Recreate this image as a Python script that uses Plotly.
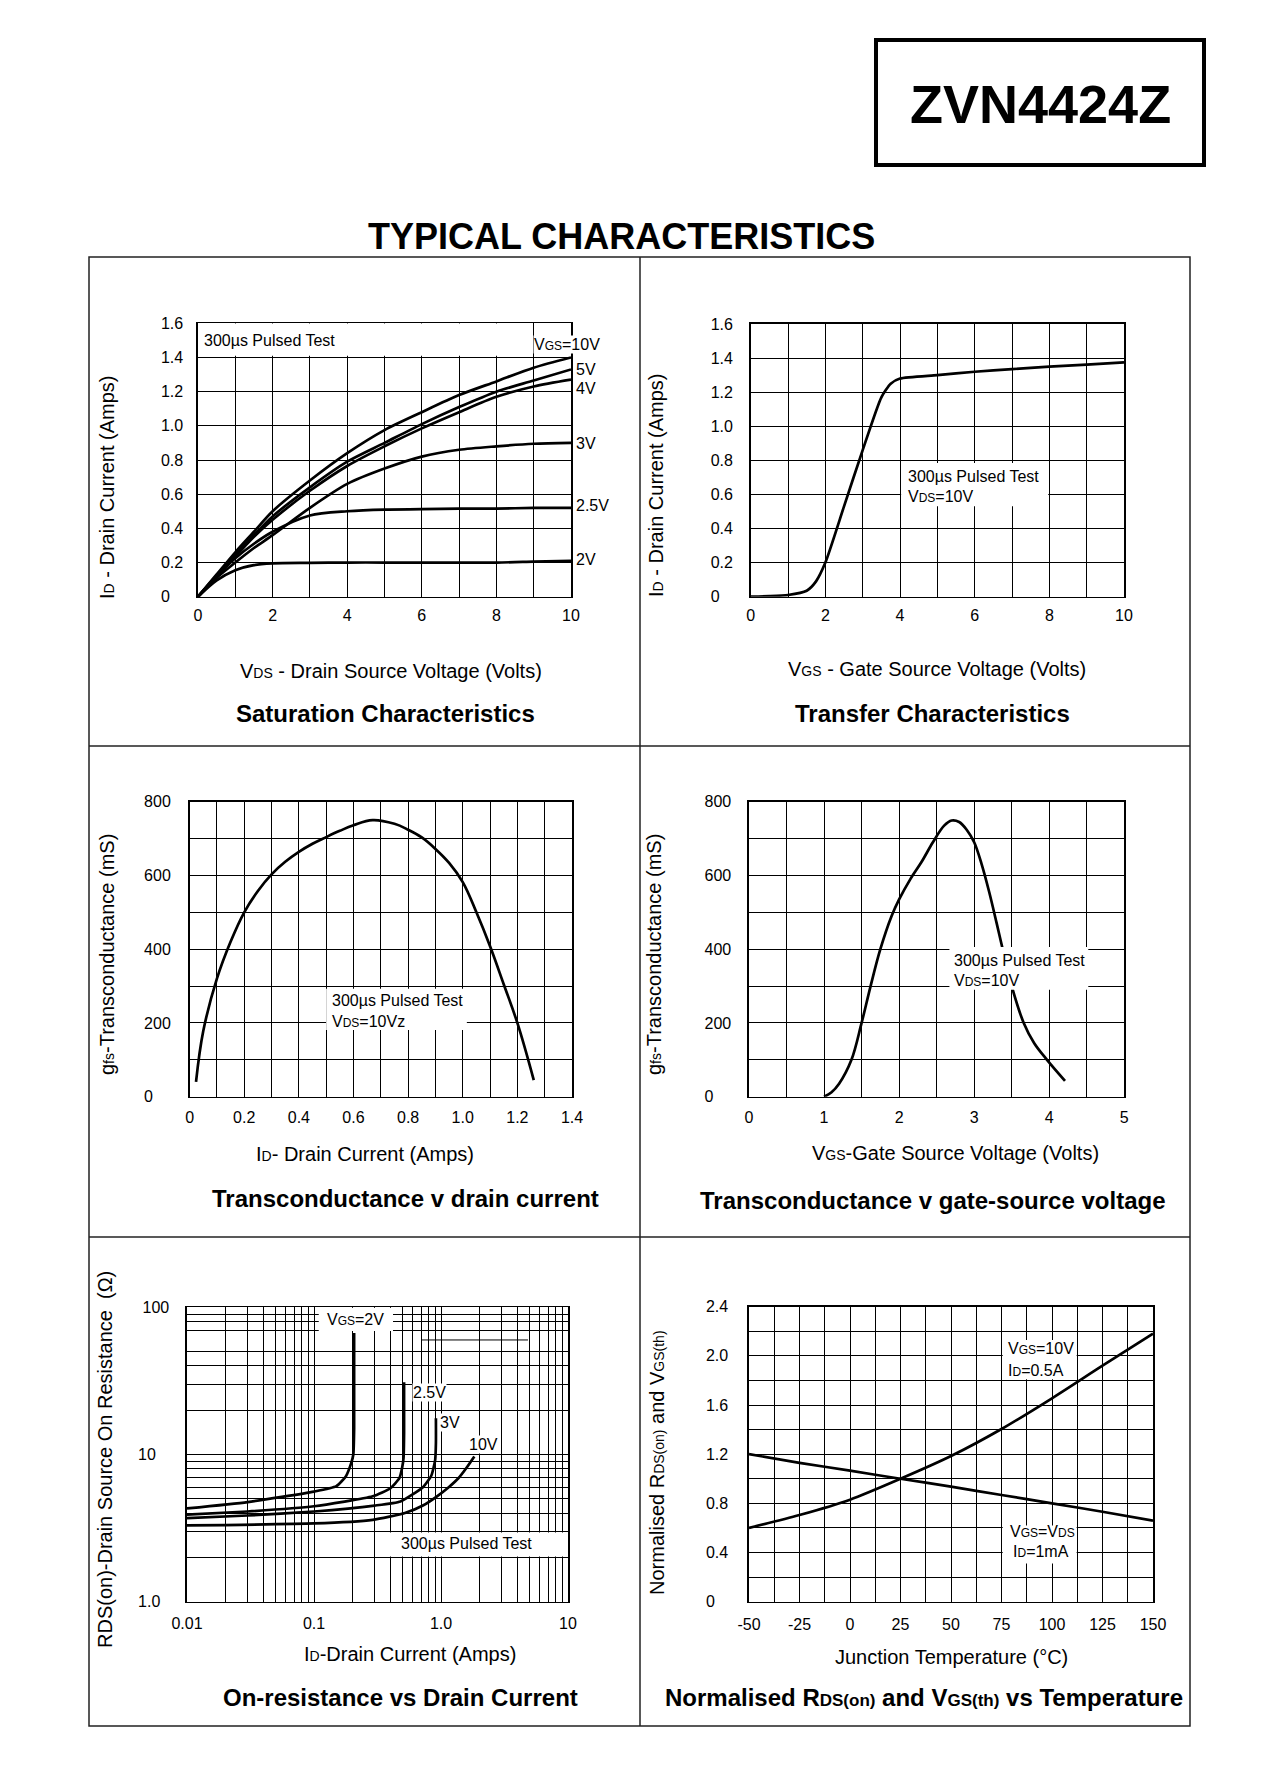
import numpy as np
import plotly.graph_objects as go

FONT = "Liberation Sans, Arial, Helvetica, sans-serif"
PAGE_W, PAGE_H = 1264, 1783
OFF = 8                      # default body margin of the page
W, H = PAGE_W - 2 * OFF, PAGE_H - 2 * OFF
NB = "\u00a0"

# ---------------- data ----------------
# Saturation characteristics
SAT_VDS = [0, 0.5, 1, 1.5, 2, 3, 4, 5, 6, 7, 8, 9, 10]
SAT_ID = {
    "10V": [0, 0.13, 0.26, 0.38, 0.50, 0.68, 0.84, 0.975, 1.08, 1.18, 1.26, 1.34, 1.40],
    "5V": [0, 0.125, 0.245, 0.36, 0.47, 0.64, 0.79, 0.90, 1.01, 1.11, 1.20, 1.265, 1.33],
    "4V": [0, 0.12, 0.235, 0.35, 0.45, 0.62, 0.765, 0.88, 0.985, 1.08, 1.17, 1.23, 1.27],
    "3V": [0, 0.11, 0.20, 0.285, 0.36, 0.52, 0.66, 0.75, 0.82, 0.86, 0.88, 0.895, 0.90],
    "2.5V": [0, 0.12, 0.225, 0.31, 0.38, 0.475, 0.50, 0.51, 0.512, 0.515, 0.515, 0.52, 0.52],
    "2V": [0, 0.095, 0.155, 0.185, 0.195, 0.198, 0.20, 0.20, 0.20, 0.20, 0.20, 0.205, 0.21],
}
SAT_LABELS = ["5V", "4V", "3V", "2.5V", "2V"]
SAT_LABEL_Y = [1.327, 1.22, 0.898, 0.533, 0.215]

# Transfer characteristics
TR_VGS = [0, 0.5, 1, 1.5, 1.75, 2, 2.5, 3, 3.5, 3.75, 4, 5, 6, 7, 8, 9, 10]
TR_ID = [0, 0.003, 0.01, 0.035, 0.09, 0.2, 0.53, 0.86, 1.17, 1.25, 1.28, 1.30, 1.32, 1.335, 1.35, 1.362, 1.375]

# Transconductance v drain current
GI_ID = [0.0235, 0.05, 0.1, 0.15, 0.2, 0.25, 0.3, 0.35, 0.4, 0.45, 0.5, 0.55, 0.6, 0.67,
         0.75, 0.8, 0.85, 0.9, 0.95, 1.0, 1.05, 1.1, 1.15, 1.2, 1.26]
GI_GFS = [40, 178, 320, 420, 500, 558, 603, 637, 664, 686, 704, 721, 736, 750,
          740, 724, 703, 672, 634, 582, 500, 408, 305, 200, 45]

# Transconductance v gate-source voltage
GV_VGS = [1.0, 1.1, 1.2, 1.365, 1.5, 1.62, 1.75, 1.9, 2.0, 2.15, 2.3, 2.45, 2.6, 2.7, 2.8, 2.9, 3.0,
          3.1, 3.2, 3.3, 3.38, 3.5, 3.66, 3.8, 3.97, 4.21]
GV_GFS = [0, 12, 35, 100, 200, 300, 400, 490, 535, 590, 637, 690, 735, 749, 745, 724, 690,
          630, 555, 470, 400, 300, 200, 145, 100, 43]

# On-resistance vs drain current
RON = {
    "2V": ([0.01, 0.03, 0.1, 0.15, 0.178, 0.196, 0.204, 0.207, 0.207],
           [4.3, 4.75, 5.6, 6.1, 7.1, 8.7, 10, 15, 67]),
    "2.5V": ([0.01, 0.03, 0.1, 0.29, 0.4, 0.47, 0.495, 0.507, 0.512, 0.512],
             [3.9, 4.1, 4.45, 5.2, 5.9, 6.9, 8.2, 9.5, 14, 31]),
    "3V": ([0.01, 0.03, 0.1, 0.3, 0.48, 0.72, 0.84, 0.9, 0.912, 0.912],
           [3.7, 3.85, 4.1, 4.5, 4.8, 6.0, 7.2, 9.2, 12, 17.6]),
    "10V": ([0.01, 0.1, 0.29, 0.52, 0.72, 0.93, 1.15, 1.37, 1.6, 1.83],
            [3.3, 3.4, 3.6, 4.0, 4.5, 5.2, 6.0, 6.9, 8.2, 9.7]),
}

# Normalised RDS(on) and VGS(th) vs temperature
TJ = [-50, -25, 0, 25, 50, 75, 100, 125, 150]
NORM_RDS = [0.6, 0.705, 0.83, 1.0, 1.185, 1.405, 1.655, 1.92, 2.18]
NORM_VTH = [1.2, 1.13, 1.066, 1.0, 0.936, 0.868, 0.80, 0.732, 0.66]

# tick labels
SAT_X_TICKS = [0, 2, 4, 6, 8, 10]
SAT_X_TEXT = ["0", "2", "4", "6", "8", "10"]
ID_Y_TICKS = [0, 0.2, 0.4, 0.6, 0.8, 1.0, 1.2, 1.4, 1.6]
ID_Y_TEXT = ["0" + NB * 3, "0.2", "0.4", "0.6", "0.8", "1.0", "1.2", "1.4", "1.6"]
GI_X_TICKS = [0, 0.2, 0.4, 0.6, 0.8, 1.0, 1.2, 1.4]
GI_X_TEXT = ["0", "0.2", "0.4", "0.6", "0.8", "1.0", "1.2", "1.4"]
GFS_Y_TICKS = [0, 200, 400, 600, 800]
GFS_Y_TEXT = ["0" + NB * 4, "200", "400", "600", "800"]
GV_X_TICKS = [0, 1, 2, 3, 4, 5]
GV_X_TEXT = ["0", "1", "2", "3", "4", "5"]
RON_X_TICKS = [0.01, 0.1, 1, 10]
RON_X_TEXT = ["0.01", "0.1", "1.0", "10"]
RON_Y_TICKS = [1, 10, 100]
RON_Y_TEXT = ["1.0" + NB * 2, "10" + NB * 3, "100"]
TJ_X_TICKS = [-50, -25, 0, 25, 50, 75, 100, 125, 150]
TJ_X_TEXT = ["-50", "-25", "0", "25", "50", "75", "100", "125", "150"]
NORM_Y_TICKS = [0, 0.4, 0.8, 1.2, 1.6, 2.0, 2.4]
NORM_Y_TEXT = ["0" + NB * 3, "0.4", "0.8", "1.2", "1.6", "2.0", "2.4"]

# ---------------- helpers ----------------
def fx(px):
    return (px - OFF) / W

def fy(py):
    return 1 - (py - OFF) / H

def ticks(lo, hi, step, tv, tt, skip=()):
    grid = [round(v, 6) for v in np.arange(lo, hi + step / 2, step)]
    lab = {round(v, 6): t for v, t in zip(tv, tt)}
    vals = sorted(set(grid) | set(lab.keys()))
    vals = [v for v in vals if v not in skip]
    return vals, [lab.get(v, "") for v in vals]

def log_ticks(dec_lo, dec_hi, tv, tt, skip=()):
    vals = []
    for k in range(dec_lo, dec_hi):
        for d in range(1, 10):
            vals.append(round(d * 10.0 ** k, 8))
    vals.append(round(10.0 ** dec_hi, 8))
    lab = {round(v, 8): t for v, t in zip(tv, tt)}
    vals = [v for v in vals if v not in skip]
    return vals, [lab.get(v, "") for v in vals]

def axis(dom, vals, text, rng, standoff, typ="linear", anchor=None):
    return dict(
        domain=dom, range=rng, type=typ, anchor=anchor, automargin=False,
        tickmode="array", tickvals=vals, ticktext=text,
        showline=True, linecolor="black", linewidth=1.6, mirror=True,
        showgrid=True, gridcolor="black", gridwidth=1, zeroline=False,
        ticks="", ticklabelstandoff=standoff,
        tickfont=dict(family=FONT, size=16, color="black"),
        fixedrange=True,
    )

# plot rectangles in page pixels (left, right, top, bottom)
RECTS = [
    (198, 571, 323.3, 596.7),
    (750.7, 1124, 324, 596.7),
    (189.6, 572, 801.7, 1096.7),
    (749, 1124.3, 801.7, 1096.7),
    (187, 568, 1307.3, 1601.7),
    (749, 1153, 1306.7, 1601.7),
]

def xdom(i):
    l, r, t, b = RECTS[i]
    return [fx(l), fx(r)]

def ydom(i):
    l, r, t, b = RECTS[i]
    return [fy(b), fy(t)]

layout = dict(
    template="none",
    width=W, height=H, autosize=False,
    margin=dict(l=0, r=0, t=0, b=0, pad=0, autoexpand=False),
    paper_bgcolor="white", plot_bgcolor="white",
    showlegend=False,
    font=dict(family=FONT, color="black"),
)

XS = [3, 3, 5, 5, 6, 7]
YS = [10, 13, 14, 13, 13, 16]

specs = [
    (ticks(0, 10, 1, SAT_X_TICKS, SAT_X_TEXT), ticks(0, 1.6, 0.2, ID_Y_TICKS, ID_Y_TEXT), [0, 10], [0, 1.6], "linear"),
    (ticks(0, 10, 1, SAT_X_TICKS, SAT_X_TEXT), ticks(0, 1.6, 0.2, ID_Y_TICKS, ID_Y_TEXT), [0, 10], [0, 1.6], "linear"),
    (ticks(0, 1.4, 0.1, GI_X_TICKS, GI_X_TEXT), ticks(0, 800, 100, GFS_Y_TICKS, GFS_Y_TEXT), [0, 1.4], [0, 800], "linear"),
    (ticks(0, 5, 0.5, GV_X_TICKS, GV_X_TEXT), ticks(0, 800, 100, GFS_Y_TICKS, GFS_Y_TEXT), [0, 5], [0, 800], "linear"),
    (log_ticks(-2, 1, RON_X_TICKS, RON_X_TEXT), log_ticks(0, 2, RON_Y_TICKS, RON_Y_TEXT, skip=(60.0,)), [-2, 1], [0, 2], "log"),
    (ticks(-50, 150, 12.5, TJ_X_TICKS, TJ_X_TEXT), ticks(0, 2.4, 0.2, NORM_Y_TICKS, NORM_Y_TEXT), [-50, 150], [0, 2.4], "linear"),
]

for i, (xt, yt, xr, yr, typ) in enumerate(specs):
    n = "" if i == 0 else str(i + 1)
    layout["xaxis" + n] = axis(xdom(i), xt[0], xt[1], xr, XS[i], typ, anchor="y" + n)
    layout["yaxis" + n] = axis(ydom(i), yt[0], yt[1], yr, YS[i], typ, anchor="x" + n)

fig = go.Figure(layout=layout)

def add(x, y, i, smoothing=0.8):
    n = "" if i == 0 else str(i + 1)
    ln = dict(color="black", width=2.7, shape="spline", smoothing=smoothing)
    fig.add_trace(go.Scatter(x=x, y=y, mode="lines", line=ln,
                             xaxis="x" + n, yaxis="y" + n, hoverinfo="skip"))

for k in ["10V", "5V", "4V", "3V", "2.5V", "2V"]:
    add(SAT_VDS, SAT_ID[k], 0)
add(TR_VGS, TR_ID, 1, 0.6)
add(GI_ID, GI_GFS, 2, 1.1)
add(GV_VGS, GV_GFS, 3, 1.0)
for k in ["2V", "2.5V", "3V", "10V"]:
    add(RON[k][0], RON[k][1], 4, 0.5)
add(TJ, NORM_RDS, 5)
add(TJ, NORM_VTH, 5)

shapes = []
anns = []

def sub(t, size=12):
    return "<span style='font-size:%dpx'>%s</span>" % (size, t)

def cover(i, x0, x1, y0, y1, layer="between"):
    n = "" if i == 0 else str(i + 1)
    shapes.append(dict(type="rect", xref="x" + n, yref="y" + n, x0=x0, x1=x1, y0=y0, y1=y1,
                       fillcolor="white", line=dict(width=0), layer=layer))

def dann(i, text, x, y, size=16, xanchor="left", bg=None, xpaper=False):
    n = "" if i == 0 else str(i + 1)
    a = dict(xref="paper" if xpaper else "x" + n, yref="y" + n, x=x, y=y, text=text,
             showarrow=False, xanchor=xanchor, yanchor="middle",
             font=dict(family=FONT, size=size, color="black"))
    if bg:
        a.update(bgcolor=bg, borderpad=0)
    anns.append(a)

def pann(text, px, py, size, angle=0):
    anns.append(dict(xref="paper", yref="paper", x=fx(px), y=fy(py), text=text,
                     showarrow=False, xanchor="center", yanchor="middle", textangle=angle,
                     font=dict(family=FONT, size=size, color="black")))

# plot 1 annotations
cover(0, 0, 8.97, 1.41, 1.6)
dann(0, "300µs Pulsed Test", 0.1, 1.502)
dann(0, "V" + sub("GS") + "=10V", 8.98, 1.473, bg="white")
for lab, yv in zip(SAT_LABELS, SAT_LABEL_Y):
    dann(0, lab, fx(RECTS[0][1] + 3), yv, xpaper=True)

# plot 2
cover(1, 4.03, 7.97, 0.53, 0.785)
dann(1, "300µs Pulsed Test", 4.16, 0.705)
dann(1, "V" + sub("DS") + "=10V", 4.16, 0.587)

# plot 3
cover(2, 0.50, 1.015, 181, 293)
dann(2, "300µs Pulsed Test", 0.514, 262)
dann(2, "V" + sub("DS") + "=10Vz", 0.514, 203)

# plot 4
cover(3, 2.67, 4.52, 290, 406, layer="above")
dann(3, "300µs Pulsed Test", 2.70, 369)
dann(3, "V" + sub("DS") + "=10V", 2.70, 316)

# plot 5 (annotation positions in log units)
cover(4, 0.109, 0.419, 69, 99.3)
cover(4, 0.31, 9.9, 2.03, 2.95)
shapes.append(dict(type="line", xref="x5", yref="y5", x0=0.708, x1=4.84, y0=60, y1=60,
                   line=dict(color="black", width=1), layer="between"))
dann(4, "V" + sub("GS") + "=2V", np.log10(0.122), np.log10(82))
dann(4, "2.5V", -0.228, 1.420, bg="white")
dann(4, "3V", -0.016, 1.216, bg="white")
dann(4, "10V", 0.209, 1.069, bg="white")
dann(4, "300µs Pulsed Test", np.log10(1.59), np.log10(2.49), xanchor="center")

# plot 6
cover(5, 75.6, 112.2, 1.81, 2.13)
cover(5, 75.6, 112.2, 0.31, 0.62)
dann(5, "V" + sub("GS") + "=10V", 77, 2.056)
dann(5, "I" + sub("D") + "=0.5A", 77, 1.885)
dann(5, "V" + sub("GS") + "=V" + sub("DS"), 78.4, 0.57)
dann(5, "I" + sub("D") + "=1mA", 79.5, 0.407)

# page titles / axis titles
pann("<b>TYPICAL CHARACTERISTICS</b>", 621.5, 236, 36)
pann("<b>ZVN4424Z</b>", 1040, 104, 54)

pann("I" + sub("D", 14) + " - Drain Current (Amps)", 107, 487, 20, -90)
pann("V" + sub("DS", 14) + " - Drain Source Voltage (Volts)", 390.7, 670.7, 20)
pann("<b>Saturation Characteristics</b>", 385, 713, 24)

pann("I" + sub("D", 14) + " - Drain Current (Amps)", 656, 485, 20, -90)
pann("V" + sub("GS", 14) + " - Gate Source Voltage (Volts)", 937, 669, 20)
pann("<b>Transfer Characteristics</b>", 932, 713, 24)

pann("g" + sub("fs", 14) + "-Transconductance (mS)", 107, 955, 20, -90)
pann("I" + sub("D", 14) + "- Drain Current (Amps)", 365, 1154, 20)
pann("<b>Transconductance v drain current</b>", 405, 1198, 24)

pann("g" + sub("fs", 14) + "-Transconductance (mS)", 654, 955, 20, -90)
pann("V" + sub("GS", 14) + "-Gate Source Voltage (Volts)", 955, 1153, 20)
pann("<b>Transconductance v gate-source voltage</b>", 932, 1200, 24)

pann("RDS(on)-Drain Source On Resistance " + NB + "(Ω)", 105, 1460, 20, -90)
pann("I" + sub("D", 14) + "-Drain Current (Amps)", 410, 1654, 20)
pann("<b>On-resistance vs Drain Current</b>", 400, 1697, 24)

pann("Normalised R" + sub("DS(on)", 14) + " and V" + sub("GS(th)", 14), 657, 1463, 20, -90)
pann("Junction Temperature (°C)", 951, 1657, 20)
pann("<b>Normalised R" + sub("DS(on)", 17) + " and V" + sub("GS(th)", 17) + " vs Temperature</b>", 924, 1697, 24)

# page frame
def pline(x0, y0, x1, y1, w=1.5, c="#222"):
    shapes.append(dict(type="line", xref="paper", yref="paper", x0=fx(x0), y0=fy(y0),
                       x1=fx(x1), y1=fy(y1), line=dict(color=c, width=w)))

shapes.append(dict(type="rect", xref="paper", yref="paper", x0=fx(89), x1=fx(1190),
                   y0=fy(1726), y1=fy(257), line=dict(color="#222", width=1.5)))
pline(640, 257, 640, 1726)
pline(89, 746, 1190, 746)
pline(89, 1237, 1190, 1237)
shapes.append(dict(type="rect", xref="paper", yref="paper", x0=fx(876), x1=fx(1204),
                   y0=fy(165), y1=fy(40), line=dict(color="black", width=4)))

fig.update_layout(shapes=shapes, annotations=anns)
fig.write_html("out.html", config={"staticPlot": True})
